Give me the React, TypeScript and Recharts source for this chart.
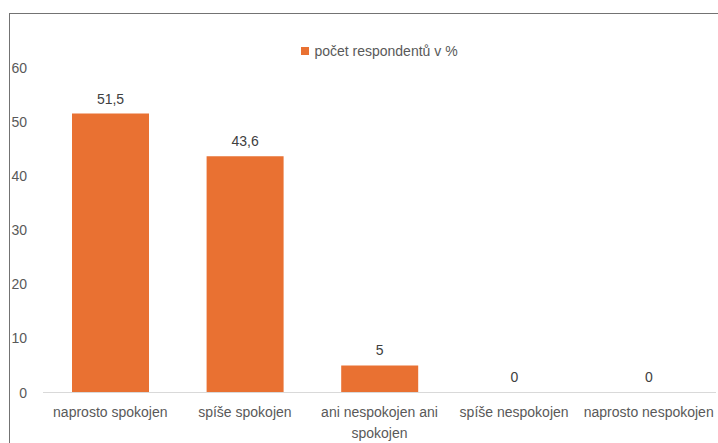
import React from "react";
import { BarChart, Bar, XAxis, YAxis, LabelList, Legend, Text, Rectangle } from "recharts";

const categories = [
  "naprosto spokojen",
  "spíše spokojen",
  "ani nespokojen ani spokojen",
  "spíše nespokojen",
  "naprosto nespokojen",
];
const values = [51.5, 43.6, 5, 0, 0];
const yTicks = [0, 10, 20, 30, 40, 50, 60];
const seriesName = "počet respondentů v %";

const data = categories.map((c, i) => ({ name: c, value: values[i] }));

const FONT = "'Liberation Sans', Arial, sans-serif";
const ORANGE = "#E97132";

const XTick = (props: any) => {
  const { x, y, payload } = props;
  return (
    <Text
      x={x}
      y={y}
      width={134}
      textAnchor="middle"
      verticalAnchor="start"
      lineHeight={20.5}
      fontSize={14}
      fontFamily={FONT}
      fill="#595959"
    >
      {payload.value}
    </Text>
  );
};

const YTick = (props: any) => {
  const { x, y, payload } = props;
  return (
    <text
      x={x}
      y={y}
      textAnchor="end"
      dominantBaseline="central"
      fontSize={14}
      fontFamily={FONT}
      fill="#595959"
    >
      {payload.value}
    </text>
  );
};

const LegendContent = (props: any) => {
  const { payload } = props;
  return (
    <div style={{ display: "flex", justifyContent: "center", alignItems: "center" }}>
      {(payload || []).map((p: any, i: number) => (
        <div key={i} style={{ display: "flex", alignItems: "center" }}>
          <span
            style={{
              display: "inline-block",
              width: 8,
              height: 8,
              background: p.color,
              marginRight: 5,
            }}
          />
          <span style={{ fontFamily: FONT, fontSize: 14, color: "#595959" }}>{p.value}</span>
        </div>
      ))}
    </div>
  );
};

const BarShape = (props: any) => {
  if (!props.height || Math.abs(props.height) < 0.5) return <g />;
  return <Rectangle {...props} />;
};

const fmt = (v: any) => String(v).replace(".", ",");

export default function App() {
  return (
    <div
      style={{
        position: "fixed",
        left: 0,
        top: 0,
        width: 718,
        height: 443,
        overflow: "hidden",
        background: "#fff",
      }}
    >
      <div
        style={{
          position: "absolute",
          left: 9,
          top: 13,
          width: 760,
          height: 460,
          border: "1px solid #737373",
        }}
      >
        <BarChart
          width={739}
          height={440}
          data={data}
          margin={{ top: 53.5, right: 33, bottom: 0, left: 0 }}
        >
          <XAxis
            dataKey="name"
            axisLine={{ stroke: "#d9d9d9", strokeWidth: 1 }}
            tickLine={false}
            tickMargin={9}
            height={61.5}
            interval={0}
            tick={<XTick />}
          />
          <YAxis
            width={33}
            domain={[0, 60]}
            ticks={yTicks}
            axisLine={false}
            tickLine={false}
            tickMargin={10}
            tick={<YTick />}
          />
          <Legend
            verticalAlign="middle"
            align="center"
            layout="horizontal"
            content={<LegendContent />}
            wrapperStyle={{ top: 29, left: 33, width: 673 }}
          />
          <Bar
            dataKey="value"
            name={seriesName}
            fill={ORANGE}
            barSize={77}
            minPointSize={0.01}
            shape={<BarShape />}
            isAnimationActive={false}
          >
            <LabelList
              dataKey="value"
              position="top"
              offset={10}
              formatter={fmt}
              fill="#404040"
              fontSize={14}
              fontFamily={FONT}
            />
          </Bar>
        </BarChart>
      </div>
    </div>
  );
}
